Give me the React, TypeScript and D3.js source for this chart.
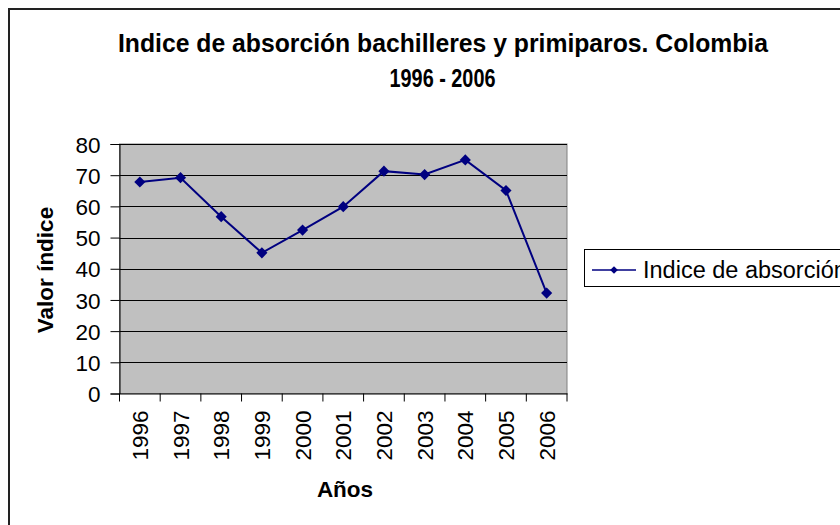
import { useEffect, useRef } from "react";
import * as d3 from "d3";

const years = ["1996", "1997", "1998", "1999", "2000", "2001", "2002", "2003", "2004", "2005", "2006"];
const absorcion = [67.8, 69.2, 56.7, 45.1, 52.4, 59.9, 71.3, 70.2, 74.9, 65.1, 32.2];
const yTicks = [0, 10, 20, 30, 40, 50, 60, 70, 80];

const W = 840;
const H = 525;
const FONT = "Arial, 'Liberation Sans', sans-serif";
const NAVY = "#000080";

const App = () => {
  const ref = useRef<SVGSVGElement | null>(null);

  useEffect(() => {
    const svg = d3.select(ref.current);
    svg.selectAll("*").remove();

    const plot = { left: 119.5, right: 567, top: 144, bottom: 393.5 };

    const x = d3.scaleBand<string>().domain(years).range([plot.left, plot.right]);
    const y = d3.scaleLinear().domain([0, 80]).range([plot.bottom, plot.top]);

    svg.append("rect").attr("width", W).attr("height", H).attr("fill", "#fff");

    // outer chart border
    svg
      .append("rect")
      .attr("x", 9)
      .attr("y", 9)
      .attr("width", W + 20)
      .attr("height", H + 20)
      .attr("fill", "none")
      .attr("stroke", "#222")
      .attr("stroke-width", 2);

    // title
    const title = svg
      .append("g")
      .attr("font-family", FONT)
      .attr("font-weight", "bold")
      .attr("font-size", 25)
      .attr("text-anchor", "middle")
      .attr("fill", "#000");
    title
      .append("text")
      .attr("x", 443)
      .attr("y", 52)
      .attr("textLength", 650)
      .attr("lengthAdjust", "spacingAndGlyphs")
      .text("Indice de absorción bachilleres y primiparos. Colombia");
    title
      .append("text")
      .attr("x", 442.5)
      .attr("y", 87)
      .attr("textLength", 106)
      .attr("lengthAdjust", "spacingAndGlyphs")
      .text("1996 - 2006");

    // plot area
    svg
      .append("rect")
      .attr("x", plot.left)
      .attr("y", plot.top)
      .attr("width", plot.right - plot.left)
      .attr("height", plot.bottom - plot.top)
      .attr("fill", "#c0c0c0")
      .attr("stroke", "#808080")
      .attr("stroke-width", 1);

    // gridlines
    svg
      .append("g")
      .selectAll("line")
      .data(yTicks.filter((t) => t > 0))
      .enter()
      .append("line")
      .attr("x1", plot.left)
      .attr("x2", plot.right)
      .attr("y1", (d) => Math.round(y(d)) + 0.5)
      .attr("y2", (d) => Math.round(y(d)) + 0.5)
      .attr("stroke", "#000")
      .attr("stroke-width", 1);

    // y axis
    const yAxis = svg
      .append("g")
      .attr("transform", `translate(${plot.left},0)`)
      .call(
        d3
          .axisLeft(y)
          .tickValues(yTicks)
          .tickSize(9)
          .tickPadding(10)
          .tickFormat((d) => String(d))
      );
    yAxis.select(".domain").attr("stroke", "#000");
    yAxis.selectAll(".tick line").attr("stroke", "#000");
    yAxis
      .selectAll(".tick text")
      .attr("font-family", FONT)
      .attr("font-size", 22.5)
      .attr("fill", "#000")
      .attr("dy", "0.36em");

    // x axis
    const xAxis = svg
      .append("g")
      .attr("transform", `translate(0,${plot.bottom})`)
      .call(d3.axisBottom(x).tickSize(0).tickFormat((d) => d));
    xAxis.select(".domain").attr("stroke", "#000");
    xAxis
      .selectAll(".tick text")
      .attr("font-family", FONT)
      .attr("font-size", 22.5)
      .attr("fill", "#000")
      .attr("text-anchor", "end")
      .attr("transform", "rotate(-90)")
      .attr("x", -17)
      .attr("y", 0)
      .attr("dy", "0.36em");

    // category boundary ticks
    const bounds = [...years.map((yr) => x(yr) as number), plot.right];
    svg
      .append("g")
      .selectAll("line")
      .data(bounds)
      .enter()
      .append("line")
      .attr("x1", (d) => d)
      .attr("x2", (d) => d)
      .attr("y1", plot.bottom)
      .attr("y2", plot.bottom + 8)
      .attr("stroke", "#000");

    // axis titles
    svg
      .append("text")
      .attr("transform", `translate(53,270) rotate(-90)`)
      .attr("text-anchor", "middle")
      .attr("font-family", FONT)
      .attr("font-weight", "bold")
      .attr("font-size", 22.5)
      .text("Valor índice");
    svg
      .append("text")
      .attr("x", 345)
      .attr("y", 497)
      .attr("text-anchor", "middle")
      .attr("font-family", FONT)
      .attr("font-weight", "bold")
      .attr("font-size", 22.5)
      .text("Años");

    // series
    const cx = (i: number) => (x(years[i]) as number) + x.bandwidth() / 2;
    const line = d3
      .line<number>()
      .x((_, i) => cx(i))
      .y((d) => y(d));
    svg
      .append("path")
      .datum(absorcion)
      .attr("d", line)
      .attr("fill", "none")
      .attr("stroke", NAVY)
      .attr("stroke-width", 2);

    const marker = d3.symbol().type(d3.symbolSquare).size(62);
    svg
      .append("g")
      .selectAll("path")
      .data(absorcion)
      .enter()
      .append("path")
      .attr("d", marker)
      .attr("transform", (d, i) => `translate(${cx(i)},${y(d)}) rotate(45)`)
      .attr("fill", NAVY);

    // legend
    const legend = svg.append("g");
    legend
      .append("rect")
      .attr("x", 584.5)
      .attr("y", 249.5)
      .attr("width", 300)
      .attr("height", 37)
      .attr("fill", "#fff")
      .attr("stroke", "#000");
    legend
      .append("line")
      .attr("x1", 592)
      .attr("x2", 636)
      .attr("y1", 270)
      .attr("y2", 270)
      .attr("stroke", NAVY)
      .attr("stroke-width", 1.5);
    legend
      .append("path")
      .attr("d", d3.symbol().type(d3.symbolSquare).size(30))
      .attr("transform", "translate(614,270) rotate(45)")
      .attr("fill", NAVY);
    legend
      .append("text")
      .attr("x", 643)
      .attr("y", 278)
      .attr("font-family", FONT)
      .attr("font-size", 23.5)
      .text("Indice de absorción");
  }, []);

  return (
    <svg
      ref={ref}
      width={W}
      height={H}
      style={{ position: "absolute", left: 0, top: 0, display: "block" }}
    />
  );
};

export default App;
